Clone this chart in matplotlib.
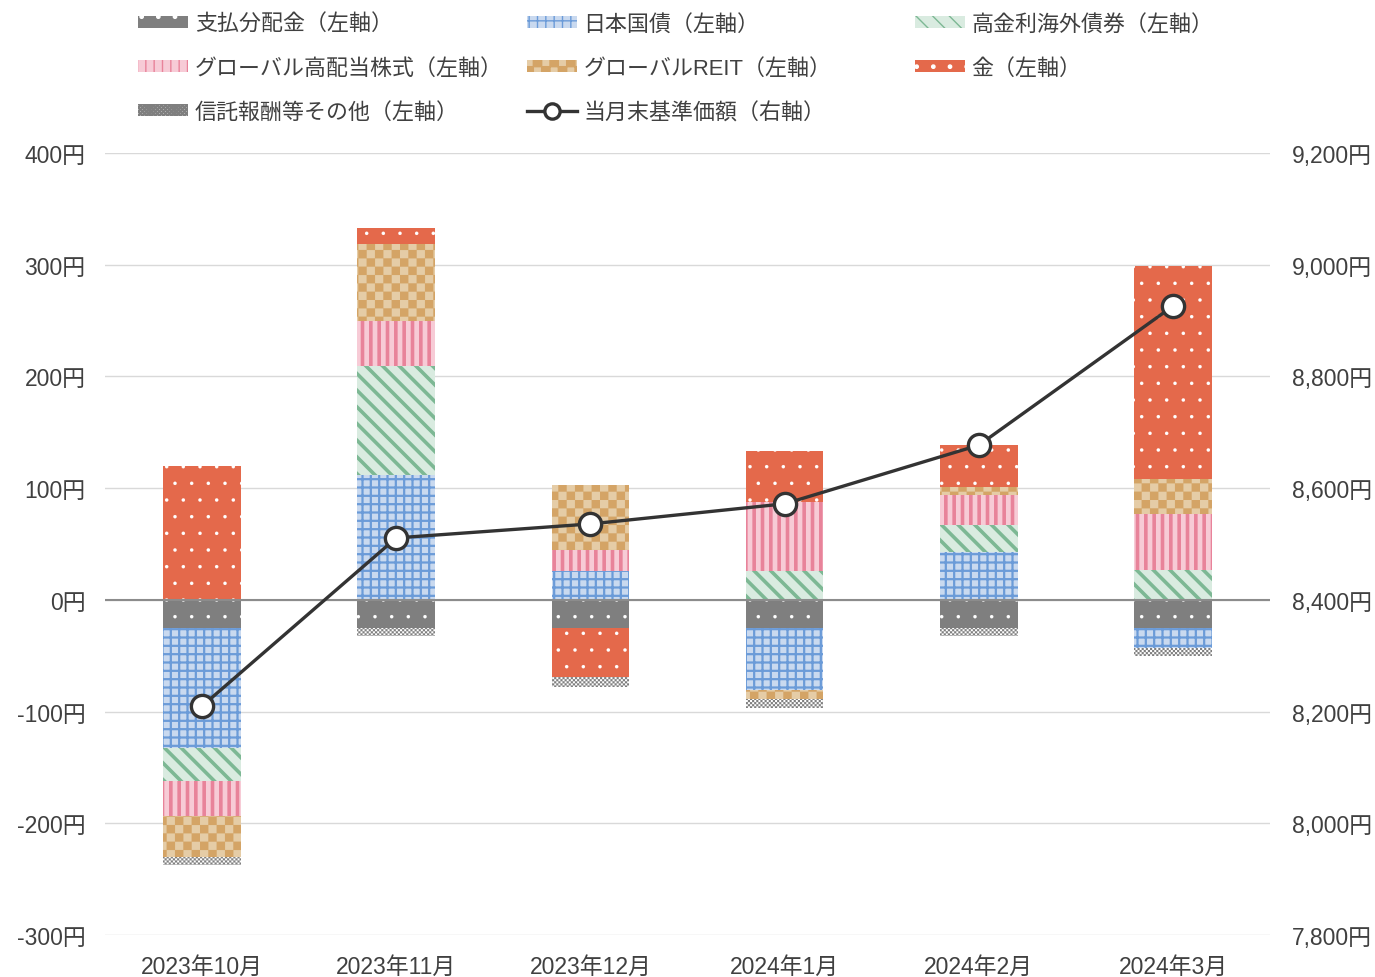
import warnings
import numpy as np
import matplotlib
matplotlib.use("Agg")
import matplotlib.pyplot as plt
import matplotlib.hatch as mhatch
from matplotlib.path import Path

warnings.filterwarnings("ignore")

months = ["2023年10月", "2023年11月", "2023年12月", "2024年1月", "2024年2月", "2024年3月"]

dist = [-25, -25, -25, -25, -25, -25]          # 支払分配金
jgb = [-108, 112, 26, -56, 42.5, -18]          # 日本国債
hy_bond = [-29, 97, 0, 26, 24.5, 27]           # 高金利海外債券
equity = [-31, 41, 19, 62, 27, 50]             # グローバル高配当株式
reit = [-37, 69, 57.5, -7.5, 7, 31]            # グローバルREIT
gold = [120, 13.5, -44, 45, 38, 191]           # 金
trust = [-7.5, -7.5, -9, -8, -7, -7]           # 信託報酬等その他
nav = [8210, 8511, 8536, 8572, 8677, 8926]     # 当月末基準価額

left_ticks = [-300, -200, -100, 0, 100, 200, 300, 400]
right_ticks = [7800, 8000, 8200, 8400, 8600, 8800, 9000, 9200]


# checkerboard hatch, character "c"
class CheckerHatch(mhatch.HatchPatternBase):
    def __init__(self, hatch, density):
        self.num = int(hatch.count("c") * density)
        self.num_vertices = self.num * self.num * 2 * 5

    def set_vertices_and_codes(self, vertices, codes):
        s = 1.0 / self.num
        h = s / 2
        k = 0
        for i in range(self.num):
            for j in range(self.num):
                for ox, oy in ((0, 0), (h, h)):
                    x0 = i * s + ox
                    y0 = j * s + oy
                    vertices[k:k + 5] = [(x0, y0), (x0 + h, y0), (x0 + h, y0 + h), (x0, y0 + h), (x0, y0)]
                    codes[k:k + 5] = [Path.MOVETO, Path.LINETO, Path.LINETO, Path.LINETO, Path.CLOSEPOLY]
                    k += 5


mhatch._hatch_types.append(CheckerHatch)

plt.rcParams["font.family"] = ["Liberation Sans", "Noto Sans CJK JP", "DejaVu Sans"]
plt.rcParams["text.color"] = "#404040"

# (label, values, face, hatch colour, hatch, hatch linewidth)
series = [
    ("支払分配金（左軸）", dist, "#7f7f7f", "#ffffff", ".", 0.1),
    ("日本国債（左軸）", jgb, "#c9d9ef", "#6b9bd8", "++", 1.6),
    ("高金利海外債券（左軸）", hy_bond, "#d9ebe0", "#7db894", "\\\\", 2.6),
    ("グローバル高配当株式（左軸）", equity, "#f7cbd6", "#e8839a", "||", 2.6),
    ("グローバルREIT（左軸）", reit, "#e5cca6", "#d4a466", "c", 0.1),
    ("金（左軸）", gold, "#e4694b", "#ffffff", ".", 0.1),
    ("信託報酬等その他（左軸）", trust, "#ffffff", "#7f7f7f", "cccc", 0.05),
]

fig = plt.figure(figsize=(13.75, 9.78), dpi=100)
ax = fig.add_axes([0.0764, 0.0429, 0.8473, 0.7996])

x = np.arange(len(months))
pos_base = np.zeros(len(months))
neg_base = np.zeros(len(months))
handles = []
for label, vals, face, hc, hatch, hlw in series:
    v = np.array(vals, dtype=float)
    bottom = np.where(v >= 0, pos_base, neg_base)
    with plt.rc_context({"hatch.linewidth": hlw}):
        bars = ax.bar(x, v, 0.4, bottom=bottom, color=face, edgecolor=hc,
                      hatch=hatch, linewidth=0, label=label, zorder=2)
    handles.append(bars)
    pos_base += np.where(v >= 0, v, 0)
    neg_base += np.where(v < 0, v, 0)

ax.set_xlim(-0.5, len(months) - 0.5)
ax.set_ylim(-300, 400)
ax.set_yticks(left_ticks)
ax.set_yticklabels([f"{t}円" for t in left_ticks])
ax.set_xticks(x)
ax.set_xticklabels(months)
ax.yaxis.grid(True, color="#d9d9d9", linewidth=1.0, zorder=0)
ax.axhline(0, color="#8c8c8c", linewidth=1.5, zorder=3)
for s in ax.spines.values():
    s.set_visible(False)
ax.tick_params(axis="y", length=0, pad=14, labelsize=16.5, labelcolor="#404040")
ax.tick_params(axis="x", length=0, pad=14, labelsize=16.5, labelcolor="#404040")

ax2 = ax.twinx()
line, = ax2.plot(x, nav, color="#333333", linewidth=2.4, marker="o", markersize=16,
                 markerfacecolor="white", markeredgecolor="#333333", markeredgewidth=2.4,
                 label="当月末基準価額（右軸）", zorder=5)
ax2.set_ylim(7800, 9200)
ax2.set_yticks(right_ticks)
ax2.set_yticklabels([f"{t:,}円" for t in right_ticks])
for s in ax2.spines.values():
    s.set_visible(False)
ax2.tick_params(axis="y", length=0, pad=16, labelsize=16.5, labelcolor="#404040")

# legend: three fixed columns
columns = [
    ([handles[0], handles[3], handles[6]], 138),
    ([handles[1], handles[4], line], 527),
    ([handles[2], handles[5]], 915),
]
for hs, px in columns:
    leg = fig.legend(handles=hs, labels=[h.get_label() for h in hs], loc="upper left",
                     bbox_to_anchor=(px / 1375, 1 - 15 / 978), frameon=False,
                     fontsize=15.8, handlelength=2.28, handleheight=0.46,
                     handletextpad=0.3, labelspacing=1.05, borderpad=0,
                     borderaxespad=0)
    for lh in leg.legend_handles:
        if hasattr(lh, "set_markersize"):
            lh.set_markersize(11)

fig.savefig("out.png", dpi=100)
